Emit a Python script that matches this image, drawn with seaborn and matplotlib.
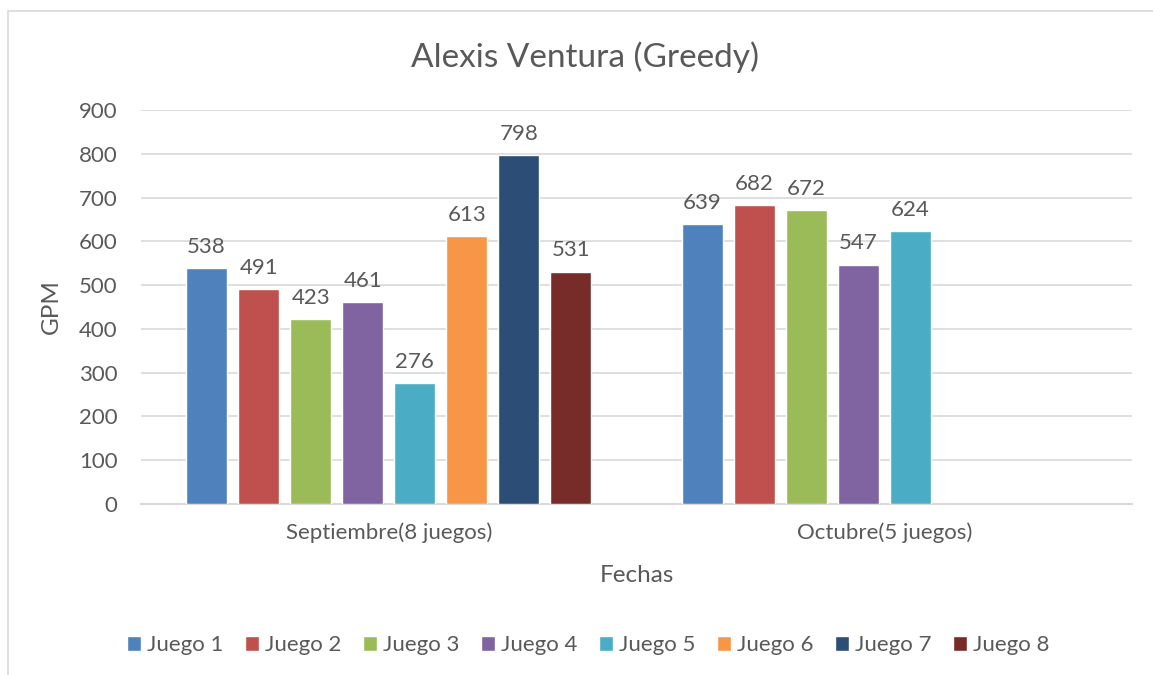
import pandas as pd
import seaborn as sns
import matplotlib.pyplot as plt
from matplotlib.patches import Rectangle

# data
meses = ["Septiembre(8 juegos)", "Octubre(5 juegos)"]
juegos = ["Juego 1", "Juego 2", "Juego 3", "Juego 4",
          "Juego 5", "Juego 6", "Juego 7", "Juego 8"]
gpm_septiembre = [538, 491, 423, 461, 276, 613, 798, 531]
gpm_octubre = [639, 682, 672, 547, 624]

colores = ["#4F81BD", "#C0504D", "#9BBB59", "#8064A2",
           "#4BACC6", "#F79646", "#2C4D75", "#772C2A"]

rows = []
for j, v in zip(juegos, gpm_septiembre):
    rows.append({"Fechas": meses[0], "Juego": j, "GPM": v})
for j, v in zip(juegos, gpm_octubre):
    rows.append({"Fechas": meses[1], "Juego": j, "GPM": v})
df = pd.DataFrame(rows)

sns.set_style("white")
plt.rcParams["font.family"] = ["Lato", "DejaVu Sans"]
txt = "#595959"
grid = "#D9D9D9"

fig = plt.figure(figsize=(11.53, 6.75), dpi=100)
ax = fig.add_axes([141 / 1153, 1 - 504 / 675, (1132 - 141) / 1153, (504 - 110) / 675])

sns.barplot(data=df, x="Fechas", y="GPM", hue="Juego", order=meses,
            hue_order=juegos, palette=colores, width=0.84, gap=0.21,
            saturation=1, ax=ax, legend=True, zorder=3)

for c in ax.containers:
    ax.bar_label(c, padding=8, fontsize=16, color=txt)

ax.set_ylim(0, 900)
ax.set_yticks(range(0, 901, 100))
ax.yaxis.grid(True, color=grid, linewidth=1.2, zorder=0)
ax.set_axisbelow(True)
for s in ["left", "right", "top"]:
    ax.spines[s].set_visible(False)
ax.spines["bottom"].set_color(grid)
ax.spines["bottom"].set_linewidth(1.5)
ax.tick_params(axis="both", length=0, labelsize=16, colors=txt)
ax.tick_params(axis="y", pad=17)
ax.tick_params(axis="x", pad=13)

ax.set_xlabel("Fechas", fontsize=17.5, color=txt, labelpad=16)
ax.set_ylabel("GPM", fontsize=17.5, color=txt, labelpad=12)
fig.suptitle("Alexis Ventura (Greedy)", fontsize=24, color=txt,
             x=585 / 1153, y=1 - 57 / 675, va="center")

handles, labels = ax.get_legend_handles_labels()
ax.get_legend().remove()
fig.legend(handles, labels, loc="center", ncol=8, frameon=False,
           bbox_to_anchor=(588 / 1153, 1 - 645 / 675), fontsize=16,
           labelcolor=txt, handlelength=0.65, handleheight=0.65,
           handletextpad=0.25, columnspacing=0.97)

# light frame around the chart area, like the spreadsheet export
fig.patches.append(Rectangle((8 / 1153, -0.05), 1.2, 1 - 11 / 675 + 0.05,
                             transform=fig.transFigure, fill=False,
                             edgecolor=grid, linewidth=1.2))

fig.savefig("out.png", dpi=100)
